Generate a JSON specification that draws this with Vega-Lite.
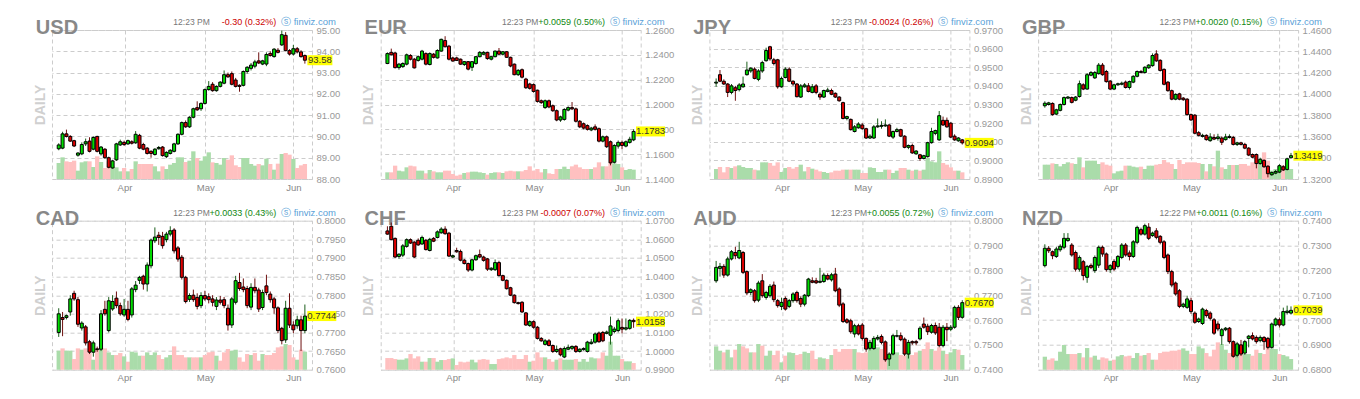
{
"$schema":"https://vega.github.io/schema/vega-lite/v6.json",
"background":"white",
"padding":{"left":32,"top":16,"right":5,"bottom":5},
"config":{
 "font":"Liberation Sans",
 "view":{"stroke":"#cccccc","strokeDash":[4,3]},
 "axisX":{"gridColor":"#cccccc","gridDash":[4,3],"ticks":false,"domain":false,"labelColor":"#888888","labelFontSize":9.5,"labelPadding":3,"labelFlush":false,"labelOverlap":false},
 "axisRight":{"gridColor":"#cccccc","gridDash":[4,3],"ticks":false,"tickSize":0,"domain":false,"labelColor":"#999999","labelFontSize":9.5,"labelPadding":4,"labelFlush":false,"labelBound":false,"labelOverlap":false},
 "axisLeft":{"titleColor":"#d0d0d0","titleFontSize":14,"titleFontWeight":"bold","titlePadding":5}
},
"datasets":{
"USD":[
{"i":0,"o":89.42,"h":89.68,"l":89.35,"c":89.6,"v":48},{"i":1,"o":89.45,"h":90.22,"l":89.4,"c":90.12,"v":65},{"i":2,"o":90.12,"h":90.32,"l":89.95,"c":90.0,"v":53},{"i":3,"o":90.0,"h":90.06,"l":89.74,"c":89.78,"v":51},{"i":4,"o":89.8,"h":89.84,"l":89.5,"c":89.55,"v":55},
{"i":5,"o":89.12,"h":89.26,"l":89.05,"c":89.22,"v":25},{"i":6,"o":89.18,"h":89.72,"l":89.12,"c":89.62,"v":50},{"i":7,"o":89.65,"h":89.9,"l":89.55,"c":89.75,"v":53},{"i":8,"o":89.78,"h":89.96,"l":89.25,"c":89.3,"v":53},{"i":9,"o":89.4,"h":90.0,"l":89.35,"c":89.95,"v":36},
{"i":10,"o":90.0,"h":90.03,"l":89.25,"c":89.3,"v":68},{"i":11,"o":89.18,"h":89.55,"l":89.1,"c":89.5,"v":51},{"i":12,"o":89.4,"h":89.45,"l":88.95,"c":89.0,"v":33},{"i":13,"o":89.0,"h":89.05,"l":88.5,"c":88.55,"v":53},{"i":14,"o":88.52,"h":88.9,"l":88.48,"c":88.85,"v":38},
{"i":15,"o":88.9,"h":89.7,"l":88.85,"c":89.65,"v":35},{"i":16,"o":89.6,"h":89.85,"l":89.55,"c":89.75,"v":23},{"i":17,"o":89.72,"h":89.8,"l":89.55,"c":89.62,"v":33},{"i":18,"o":89.65,"h":89.85,"l":89.6,"c":89.8,"v":23},{"i":19,"o":89.75,"h":89.82,"l":89.62,"c":89.68,"v":30},
{"i":20,"o":89.7,"h":90.25,"l":89.65,"c":90.1,"v":53},{"i":21,"o":90.05,"h":90.12,"l":89.4,"c":89.45,"v":45},{"i":22,"o":89.62,"h":89.7,"l":89.35,"c":89.4,"v":45},{"i":23,"o":89.45,"h":89.5,"l":89.15,"c":89.2,"v":45},{"i":24,"o":89.3,"h":89.35,"l":89.0,"c":89.2,"v":45},
{"i":25,"o":89.15,"h":89.45,"l":89.1,"c":89.4,"v":38},{"i":26,"o":89.42,"h":89.55,"l":89.38,"c":89.48,"v":23},{"i":27,"o":89.5,"h":89.55,"l":89.05,"c":89.1,"v":38},{"i":28,"o":89.05,"h":89.3,"l":88.98,"c":89.25,"v":30},{"i":29,"o":89.2,"h":89.4,"l":89.15,"c":89.35,"v":43},
{"i":30,"o":89.3,"h":89.7,"l":89.25,"c":89.65,"v":48},{"i":31,"o":89.65,"h":90.15,"l":89.6,"c":90.1,"v":65},{"i":32,"o":90.1,"h":90.7,"l":90.05,"c":90.65,"v":65},{"i":33,"o":90.65,"h":90.75,"l":90.4,"c":90.45,"v":51},{"i":34,"o":90.45,"h":90.95,"l":90.4,"c":90.9,"v":55},
{"i":35,"o":90.9,"h":91.35,"l":90.85,"c":91.3,"v":83},{"i":36,"o":91.35,"h":91.65,"l":91.2,"c":91.25,"v":63},{"i":37,"o":91.3,"h":91.6,"l":91.2,"c":91.55,"v":55},{"i":38,"o":91.55,"h":92.25,"l":91.5,"c":92.2,"v":68},{"i":39,"o":92.2,"h":92.6,"l":92.15,"c":92.35,"v":80},
{"i":40,"o":92.45,"h":92.55,"l":92.1,"c":92.15,"v":50},{"i":41,"o":92.15,"h":92.4,"l":92.1,"c":92.35,"v":48},{"i":42,"o":92.35,"h":92.6,"l":92.3,"c":92.55,"v":43},{"i":43,"o":92.5,"h":93.1,"l":92.45,"c":92.9,"v":63},{"i":44,"o":92.9,"h":93.0,"l":92.75,"c":92.8,"v":58},
{"i":45,"o":92.95,"h":93.05,"l":92.4,"c":92.45,"v":71},{"i":46,"o":92.65,"h":92.75,"l":92.3,"c":92.35,"v":41},{"i":47,"o":92.4,"h":92.45,"l":92.1,"c":92.35,"v":36},{"i":48,"o":92.4,"h":93.1,"l":92.35,"c":93.05,"v":63},{"i":49,"o":93.05,"h":93.3,"l":92.95,"c":93.25,"v":63},
{"i":50,"o":93.2,"h":93.45,"l":93.1,"c":93.35,"v":45},{"i":51,"o":93.3,"h":93.6,"l":93.2,"c":93.5,"v":40},{"i":52,"o":93.55,"h":93.95,"l":93.4,"c":93.45,"v":45},{"i":53,"o":93.4,"h":93.6,"l":93.35,"c":93.55,"v":41},{"i":54,"o":93.4,"h":93.95,"l":93.3,"c":93.85,"v":61},
{"i":55,"o":93.9,"h":94.0,"l":93.75,"c":93.8,"v":45},{"i":56,"o":93.75,"h":94.15,"l":93.7,"c":94.1,"v":28},{"i":57,"o":94.05,"h":94.15,"l":93.9,"c":93.95,"v":46},{"i":58,"o":94.3,"h":94.97,"l":94.25,"c":94.78,"v":75},{"i":59,"o":94.75,"h":94.9,"l":94.0,"c":94.03,"v":78},
{"i":60,"o":94.03,"h":94.1,"l":93.8,"c":93.87,"v":73},{"i":61,"o":93.87,"h":94.3,"l":93.8,"c":94.12,"v":60},{"i":62,"o":94.12,"h":94.2,"l":93.9,"c":93.97,"v":33},{"i":63,"o":93.97,"h":94.05,"l":93.7,"c":93.75,"v":41},{"i":64,"o":93.8,"h":93.85,"l":93.42,"c":93.58,"v":45}
],
"EUR":[
{"i":0,"o":1.233,"h":1.242,"l":1.2325,"c":1.241,"v":20},{"i":1,"o":1.242,"h":1.245,"l":1.2395,"c":1.24,"v":20},{"i":2,"o":1.2415,"h":1.2425,"l":1.229,"c":1.2297,"v":40},{"i":3,"o":1.2297,"h":1.2335,"l":1.228,"c":1.2325,"v":25},{"i":4,"o":1.2305,"h":1.234,"l":1.2295,"c":1.233,"v":23},
{"i":5,"o":1.2325,"h":1.241,"l":1.2315,"c":1.24,"v":35},{"i":6,"o":1.2395,"h":1.2405,"l":1.2355,"c":1.2365,"v":40},{"i":7,"o":1.2365,"h":1.2375,"l":1.229,"c":1.2295,"v":38},{"i":8,"o":1.2355,"h":1.2395,"l":1.2345,"c":1.2385,"v":25},{"i":9,"o":1.2365,"h":1.244,"l":1.2355,"c":1.243,"v":25},
{"i":10,"o":1.241,"h":1.242,"l":1.2315,"c":1.2325,"v":17},{"i":11,"o":1.2322,"h":1.242,"l":1.2315,"c":1.241,"v":27},{"i":12,"o":1.2405,"h":1.2415,"l":1.237,"c":1.238,"v":23},{"i":13,"o":1.2375,"h":1.2445,"l":1.237,"c":1.2435,"v":20},{"i":14,"o":1.243,"h":1.253,"l":1.2425,"c":1.2525,"v":20},
{"i":15,"o":1.2515,"h":1.255,"l":1.246,"c":1.2465,"v":25},{"i":16,"o":1.247,"h":1.248,"l":1.2355,"c":1.2365,"v":25},{"i":17,"o":1.2375,"h":1.2385,"l":1.2345,"c":1.235,"v":15},{"i":18,"o":1.2375,"h":1.2385,"l":1.235,"c":1.2355,"v":10},{"i":19,"o":1.2365,"h":1.237,"l":1.232,"c":1.2325,"v":13},
{"i":20,"o":1.2322,"h":1.235,"l":1.231,"c":1.2345,"v":18},{"i":21,"o":1.2345,"h":1.235,"l":1.2275,"c":1.2285,"v":20},{"i":22,"o":1.23,"h":1.235,"l":1.227,"c":1.2345,"v":22},{"i":23,"o":1.233,"h":1.239,"l":1.232,"c":1.2385,"v":22},{"i":24,"o":1.2385,"h":1.243,"l":1.238,"c":1.242,"v":20},
{"i":25,"o":1.2405,"h":1.243,"l":1.24,"c":1.242,"v":18},{"i":26,"o":1.242,"h":1.2425,"l":1.236,"c":1.237,"v":13},{"i":27,"o":1.2365,"h":1.239,"l":1.2355,"c":1.2385,"v":18},{"i":28,"o":1.2385,"h":1.2435,"l":1.238,"c":1.243,"v":20},{"i":29,"o":1.243,"h":1.2455,"l":1.24,"c":1.2405,"v":20},
{"i":30,"o":1.2405,"h":1.243,"l":1.2395,"c":1.2425,"v":18},{"i":31,"o":1.2425,"h":1.243,"l":1.2375,"c":1.238,"v":23},{"i":32,"o":1.238,"h":1.2385,"l":1.23,"c":1.231,"v":25},{"i":33,"o":1.2325,"h":1.233,"l":1.2235,"c":1.224,"v":23},{"i":34,"o":1.224,"h":1.2285,"l":1.223,"c":1.2275,"v":23},
{"i":35,"o":1.228,"h":1.229,"l":1.221,"c":1.222,"v":23},{"i":36,"o":1.2205,"h":1.2215,"l":1.2125,"c":1.2135,"v":27},{"i":37,"o":1.2165,"h":1.2175,"l":1.212,"c":1.213,"v":38},{"i":38,"o":1.216,"h":1.217,"l":1.2095,"c":1.2105,"v":25},{"i":39,"o":1.2115,"h":1.212,"l":1.2015,"c":1.2025,"v":30},
{"i":40,"o":1.203,"h":1.204,"l":1.2005,"c":1.2015,"v":20},{"i":41,"o":1.1975,"h":1.204,"l":1.1965,"c":1.203,"v":30},{"i":42,"o":1.203,"h":1.204,"l":1.197,"c":1.198,"v":17},{"i":43,"o":1.199,"h":1.2,"l":1.194,"c":1.195,"v":15},{"i":44,"o":1.195,"h":1.196,"l":1.1865,"c":1.1875,"v":30},
{"i":45,"o":1.1875,"h":1.191,"l":1.186,"c":1.19,"v":30},{"i":46,"o":1.188,"h":1.197,"l":1.187,"c":1.196,"v":37},{"i":47,"o":1.1955,"h":1.1985,"l":1.1945,"c":1.1975,"v":30},{"i":48,"o":1.1975,"h":1.202,"l":1.1955,"c":1.1965,"v":38},{"i":49,"o":1.1965,"h":1.1975,"l":1.1855,"c":1.1865,"v":43},
{"i":50,"o":1.1865,"h":1.1875,"l":1.181,"c":1.182,"v":35},{"i":51,"o":1.1845,"h":1.1855,"l":1.18,"c":1.181,"v":30},{"i":52,"o":1.183,"h":1.184,"l":1.179,"c":1.18,"v":30},{"i":53,"o":1.1795,"h":1.182,"l":1.1785,"c":1.181,"v":30},{"i":54,"o":1.182,"h":1.184,"l":1.179,"c":1.18,"v":35},
{"i":55,"o":1.1805,"h":1.1815,"l":1.1695,"c":1.1705,"v":50},{"i":56,"o":1.1705,"h":1.175,"l":1.1695,"c":1.174,"v":38},{"i":57,"o":1.174,"h":1.175,"l":1.165,"c":1.166,"v":38},{"i":58,"o":1.17,"h":1.171,"l":1.151,"c":1.153,"v":50},{"i":59,"o":1.1535,"h":1.168,"l":1.1525,"c":1.167,"v":47},
{"i":60,"o":1.1665,"h":1.171,"l":1.1645,"c":1.1695,"v":45},{"i":61,"o":1.1695,"h":1.171,"l":1.164,"c":1.167,"v":35},{"i":62,"o":1.1665,"h":1.171,"l":1.1655,"c":1.17,"v":27},{"i":63,"o":1.1695,"h":1.174,"l":1.1685,"c":1.172,"v":30},{"i":64,"o":1.1715,"h":1.18,"l":1.1705,"c":1.1783,"v":28}
],
"JPY":[
{"i":0,"o":0.9415,"h":0.944,"l":0.9395,"c":0.942,"v":30},{"i":1,"o":0.946,"h":0.9485,"l":0.942,"c":0.9425,"v":36},{"i":2,"o":0.9425,"h":0.9435,"l":0.9405,"c":0.941,"v":20},{"i":3,"o":0.941,"h":0.9415,"l":0.934,"c":0.9365,"v":36},{"i":4,"o":0.9365,"h":0.941,"l":0.9355,"c":0.94,"v":33},
{"i":5,"o":0.939,"h":0.94,"l":0.932,"c":0.9375,"v":38},{"i":6,"o":0.938,"h":0.9415,"l":0.937,"c":0.9405,"v":41},{"i":7,"o":0.9395,"h":0.945,"l":0.939,"c":0.941,"v":36},{"i":8,"o":0.946,"h":0.953,"l":0.9455,"c":0.9485,"v":33},{"i":9,"o":0.948,"h":0.95,"l":0.947,"c":0.9495,"v":33},
{"i":10,"o":0.949,"h":0.95,"l":0.9435,"c":0.944,"v":28},{"i":11,"o":0.9435,"h":0.949,"l":0.9425,"c":0.948,"v":26},{"i":12,"o":0.948,"h":0.9535,"l":0.947,"c":0.9525,"v":50},{"i":13,"o":0.9535,"h":0.9605,"l":0.953,"c":0.959,"v":50},{"i":14,"o":0.961,"h":0.9615,"l":0.9535,"c":0.9545,"v":48},
{"i":15,"o":0.954,"h":0.955,"l":0.951,"c":0.952,"v":40},{"i":16,"o":0.954,"h":0.9545,"l":0.9385,"c":0.9395,"v":50},{"i":17,"o":0.9395,"h":0.945,"l":0.939,"c":0.944,"v":21},{"i":18,"o":0.9445,"h":0.95,"l":0.944,"c":0.949,"v":33},{"i":19,"o":0.949,"h":0.95,"l":0.942,"c":0.9425,"v":36},
{"i":20,"o":0.9425,"h":0.943,"l":0.94,"c":0.941,"v":31},{"i":21,"o":0.941,"h":0.9415,"l":0.9338,"c":0.9342,"v":36},{"i":22,"o":0.934,"h":0.941,"l":0.9335,"c":0.94,"v":43},{"i":23,"o":0.9395,"h":0.9415,"l":0.939,"c":0.9405,"v":23},{"i":24,"o":0.94,"h":0.9415,"l":0.9365,"c":0.937,"v":36},
{"i":25,"o":0.9365,"h":0.941,"l":0.936,"c":0.9395,"v":31},{"i":26,"o":0.94,"h":0.941,"l":0.9355,"c":0.9365,"v":28},{"i":27,"o":0.9355,"h":0.9365,"l":0.9325,"c":0.934,"v":23},{"i":28,"o":0.934,"h":0.938,"l":0.9335,"c":0.9375,"v":21},{"i":29,"o":0.937,"h":0.939,"l":0.9365,"c":0.9378,"v":18},
{"i":30,"o":0.9375,"h":0.9385,"l":0.935,"c":0.9355,"v":20},{"i":31,"o":0.936,"h":0.9365,"l":0.9335,"c":0.934,"v":25},{"i":32,"o":0.934,"h":0.9345,"l":0.9315,"c":0.932,"v":25},{"i":33,"o":0.931,"h":0.9315,"l":0.922,"c":0.9225,"v":28},{"i":34,"o":0.9225,"h":0.924,"l":0.9215,"c":0.9235,"v":28},
{"i":35,"o":0.922,"h":0.9225,"l":0.916,"c":0.9165,"v":28},{"i":36,"o":0.9155,"h":0.919,"l":0.915,"c":0.918,"v":28},{"i":37,"o":0.9175,"h":0.9205,"l":0.917,"c":0.9195,"v":28},{"i":38,"o":0.919,"h":0.92,"l":0.9165,"c":0.917,"v":18},{"i":39,"o":0.917,"h":0.9175,"l":0.9115,"c":0.912,"v":18},
{"i":40,"o":0.912,"h":0.914,"l":0.9115,"c":0.913,"v":35},{"i":41,"o":0.912,"h":0.919,"l":0.9115,"c":0.918,"v":33},{"i":42,"o":0.918,"h":0.9225,"l":0.9175,"c":0.9185,"v":21},{"i":43,"o":0.9183,"h":0.921,"l":0.917,"c":0.9188,"v":21},{"i":44,"o":0.9185,"h":0.922,"l":0.918,"c":0.919,"v":28},
{"i":45,"o":0.919,"h":0.9195,"l":0.9125,"c":0.913,"v":28},{"i":46,"o":0.9125,"h":0.916,"l":0.9115,"c":0.9155,"v":18},{"i":47,"o":0.9155,"h":0.9175,"l":0.915,"c":0.9165,"v":25},{"i":48,"o":0.9165,"h":0.917,"l":0.9125,"c":0.913,"v":33},{"i":49,"o":0.913,"h":0.9135,"l":0.9065,"c":0.907,"v":33},
{"i":50,"o":0.907,"h":0.9085,"l":0.906,"c":0.908,"v":28},{"i":51,"o":0.908,"h":0.909,"l":0.9035,"c":0.904,"v":25},{"i":52,"o":0.9035,"h":0.9055,"l":0.903,"c":0.905,"v":28},{"i":53,"o":0.903,"h":0.9035,"l":0.8998,"c":0.901,"v":25},{"i":54,"o":0.901,"h":0.903,"l":0.9005,"c":0.9025,"v":28},
{"i":55,"o":0.902,"h":0.91,"l":0.9015,"c":0.9095,"v":63},{"i":56,"o":0.9095,"h":0.9175,"l":0.909,"c":0.9155,"v":53},{"i":57,"o":0.9145,"h":0.9165,"l":0.9135,"c":0.916,"v":50},{"i":58,"o":0.911,"h":0.9265,"l":0.9105,"c":0.924,"v":83},{"i":59,"o":0.9215,"h":0.9235,"l":0.9185,"c":0.919,"v":48},
{"i":60,"o":0.9215,"h":0.923,"l":0.9175,"c":0.918,"v":43},{"i":61,"o":0.92,"h":0.9205,"l":0.912,"c":0.9125,"v":35},{"i":62,"o":0.913,"h":0.914,"l":0.9105,"c":0.911,"v":25},{"i":63,"o":0.9105,"h":0.9125,"l":0.91,"c":0.912,"v":25},{"i":64,"o":0.911,"h":0.9115,"l":0.9085,"c":0.9094,"v":20}
],
"GBP":[
{"i":0,"o":1.3888,"h":1.393,"l":1.387,"c":1.3912,"v":43},{"i":1,"o":1.39,"h":1.3925,"l":1.389,"c":1.3915,"v":43},{"i":2,"o":1.391,"h":1.392,"l":1.3795,"c":1.3805,"v":47},{"i":3,"o":1.381,"h":1.386,"l":1.38,"c":1.385,"v":45},{"i":4,"o":1.3845,"h":1.391,"l":1.3835,"c":1.39,"v":38},
{"i":5,"o":1.39,"h":1.3975,"l":1.389,"c":1.3965,"v":45},{"i":6,"o":1.396,"h":1.398,"l":1.395,"c":1.397,"v":50},{"i":7,"o":1.3965,"h":1.3975,"l":1.391,"c":1.392,"v":47},{"i":8,"o":1.394,"h":1.398,"l":1.393,"c":1.397,"v":45},{"i":9,"o":1.3975,"h":1.4125,"l":1.3965,"c":1.4095,"v":65},
{"i":10,"o":1.4085,"h":1.41,"l":1.4035,"c":1.4045,"v":35},{"i":11,"o":1.4045,"h":1.4195,"l":1.404,"c":1.418,"v":55},{"i":12,"o":1.4175,"h":1.4215,"l":1.4165,"c":1.42,"v":55},{"i":13,"o":1.415,"h":1.4215,"l":1.414,"c":1.42,"v":55},{"i":14,"o":1.419,"h":1.429,"l":1.418,"c":1.427,"v":45},
{"i":15,"o":1.427,"h":1.429,"l":1.417,"c":1.418,"v":50},{"i":16,"o":1.421,"h":1.4225,"l":1.4105,"c":1.4115,"v":43},{"i":17,"o":1.412,"h":1.413,"l":1.4035,"c":1.4045,"v":40},{"i":18,"o":1.4045,"h":1.4095,"l":1.4035,"c":1.4085,"v":17},{"i":19,"o":1.4085,"h":1.4105,"l":1.4075,"c":1.4095,"v":23},
{"i":20,"o":1.409,"h":1.4115,"l":1.408,"c":1.41,"v":25},{"i":21,"o":1.411,"h":1.4125,"l":1.405,"c":1.406,"v":40},{"i":22,"o":1.406,"h":1.4125,"l":1.404,"c":1.4115,"v":40},{"i":23,"o":1.411,"h":1.4175,"l":1.41,"c":1.4165,"v":37},{"i":24,"o":1.4165,"h":1.422,"l":1.4155,"c":1.421,"v":35},
{"i":25,"o":1.421,"h":1.4225,"l":1.4195,"c":1.42,"v":37},{"i":26,"o":1.42,"h":1.426,"l":1.419,"c":1.425,"v":30},{"i":27,"o":1.4245,"h":1.428,"l":1.4235,"c":1.427,"v":40},{"i":28,"o":1.4265,"h":1.438,"l":1.4255,"c":1.436,"v":40},{"i":29,"o":1.4375,"h":1.441,"l":1.43,"c":1.431,"v":43},
{"i":30,"o":1.4315,"h":1.4325,"l":1.421,"c":1.422,"v":45},{"i":31,"o":1.423,"h":1.424,"l":1.408,"c":1.409,"v":57},{"i":32,"o":1.411,"h":1.412,"l":1.402,"c":1.403,"v":50},{"i":33,"o":1.403,"h":1.404,"l":1.394,"c":1.395,"v":45},{"i":34,"o":1.395,"h":1.4005,"l":1.394,"c":1.3995,"v":30},
{"i":35,"o":1.4,"h":1.401,"l":1.394,"c":1.395,"v":57},{"i":36,"o":1.396,"h":1.397,"l":1.3935,"c":1.3945,"v":45},{"i":37,"o":1.395,"h":1.396,"l":1.3795,"c":1.3805,"v":50},{"i":38,"o":1.3805,"h":1.3815,"l":1.3745,"c":1.3755,"v":50},{"i":39,"o":1.38,"h":1.381,"l":1.362,"c":1.363,"v":50},
{"i":40,"o":1.3635,"h":1.365,"l":1.36,"c":1.361,"v":48},{"i":41,"o":1.36,"h":1.3625,"l":1.359,"c":1.361,"v":45},{"i":42,"o":1.361,"h":1.362,"l":1.356,"c":1.357,"v":23},{"i":43,"o":1.356,"h":1.363,"l":1.355,"c":1.3595,"v":45},{"i":44,"o":1.359,"h":1.362,"l":1.3565,"c":1.3575,"v":38},
{"i":45,"o":1.358,"h":1.3625,"l":1.356,"c":1.3595,"v":85},{"i":46,"o":1.3585,"h":1.36,"l":1.352,"c":1.3545,"v":35},{"i":47,"o":1.357,"h":1.3625,"l":1.356,"c":1.3595,"v":30},{"i":48,"o":1.359,"h":1.362,"l":1.358,"c":1.36,"v":42},{"i":49,"o":1.359,"h":1.3605,"l":1.3515,"c":1.3525,"v":42},
{"i":50,"o":1.3525,"h":1.355,"l":1.351,"c":1.354,"v":42},{"i":51,"o":1.354,"h":1.355,"l":1.3515,"c":1.3525,"v":45},{"i":52,"o":1.3525,"h":1.354,"l":1.348,"c":1.349,"v":45},{"i":53,"o":1.349,"h":1.35,"l":1.3415,"c":1.3425,"v":40},{"i":54,"o":1.343,"h":1.344,"l":1.3395,"c":1.3405,"v":50},
{"i":55,"o":1.343,"h":1.344,"l":1.33,"c":1.3345,"v":45},{"i":56,"o":1.3345,"h":1.34,"l":1.3335,"c":1.3385,"v":45},{"i":57,"o":1.3375,"h":1.3385,"l":1.3305,"c":1.3315,"v":80},{"i":58,"o":1.332,"h":1.333,"l":1.3215,"c":1.325,"v":55},{"i":59,"o":1.324,"h":1.327,"l":1.323,"c":1.326,"v":25},
{"i":60,"o":1.3255,"h":1.3285,"l":1.3245,"c":1.327,"v":30},{"i":61,"o":1.3265,"h":1.334,"l":1.3255,"c":1.3325,"v":38},{"i":62,"o":1.3315,"h":1.333,"l":1.3275,"c":1.3285,"v":40},{"i":63,"o":1.329,"h":1.34,"l":1.328,"c":1.339,"v":30},{"i":64,"o":1.34,"h":1.3445,"l":1.3395,"c":1.3419,"v":30}
],
"CAD":[
{"i":0,"o":0.77,"h":0.7765,"l":0.7688,"c":0.775,"v":57},{"i":1,"o":0.774,"h":0.7755,"l":0.769,"c":0.7735,"v":64},{"i":2,"o":0.774,"h":0.7748,"l":0.7735,"c":0.7745,"v":57},{"i":3,"o":0.7755,"h":0.78,"l":0.7745,"c":0.779,"v":57},{"i":4,"o":0.7805,"h":0.7812,"l":0.7785,"c":0.779,"v":32},
{"i":5,"o":0.7788,"h":0.7795,"l":0.7715,"c":0.7722,"v":64},{"i":6,"o":0.7712,"h":0.773,"l":0.7705,"c":0.7725,"v":60},{"i":7,"o":0.7715,"h":0.772,"l":0.7665,"c":0.7672,"v":64},{"i":8,"o":0.7675,"h":0.768,"l":0.7642,"c":0.7647,"v":50},{"i":9,"o":0.7647,"h":0.7678,"l":0.7635,"c":0.7672,"v":30},
{"i":10,"o":0.7656,"h":0.7662,"l":0.7648,"c":0.7654,"v":64},{"i":11,"o":0.7655,"h":0.776,"l":0.765,"c":0.775,"v":62},{"i":12,"o":0.7762,"h":0.7785,"l":0.7745,"c":0.775,"v":64},{"i":13,"o":0.7705,"h":0.7795,"l":0.77,"c":0.7785,"v":52},{"i":14,"o":0.7763,"h":0.78,"l":0.7758,"c":0.7783,"v":44},
{"i":15,"o":0.7792,"h":0.781,"l":0.7765,"c":0.7772,"v":44},{"i":16,"o":0.7772,"h":0.778,"l":0.7745,"c":0.775,"v":50},{"i":17,"o":0.7747,"h":0.779,"l":0.7742,"c":0.7762,"v":40},{"i":18,"o":0.7762,"h":0.7785,"l":0.773,"c":0.7735,"v":24},{"i":19,"o":0.7747,"h":0.7822,"l":0.774,"c":0.7817,"v":54},
{"i":20,"o":0.7815,"h":0.7838,"l":0.7808,"c":0.7827,"v":52},{"i":21,"o":0.784,"h":0.7852,"l":0.783,"c":0.7848,"v":42},{"i":22,"o":0.7851,"h":0.7855,"l":0.7815,"c":0.783,"v":42},{"i":23,"o":0.783,"h":0.7888,"l":0.781,"c":0.7881,"v":52},{"i":24,"o":0.7879,"h":0.7952,"l":0.7872,"c":0.7948,"v":44},
{"i":25,"o":0.7946,"h":0.7982,"l":0.794,"c":0.7956,"v":52},{"i":26,"o":0.7961,"h":0.797,"l":0.7935,"c":0.7955,"v":44},{"i":27,"o":0.7958,"h":0.797,"l":0.7925,"c":0.7933,"v":32},{"i":28,"o":0.7949,"h":0.797,"l":0.7942,"c":0.7964,"v":37},{"i":29,"o":0.7964,"h":0.7985,"l":0.7958,"c":0.7973,"v":44},
{"i":30,"o":0.7975,"h":0.798,"l":0.7912,"c":0.7919,"v":70},{"i":31,"o":0.7927,"h":0.7932,"l":0.789,"c":0.7897,"v":44},{"i":32,"o":0.7902,"h":0.7908,"l":0.7842,"c":0.7848,"v":44},{"i":33,"o":0.7848,"h":0.7852,"l":0.7778,"c":0.7783,"v":37},{"i":34,"o":0.7789,"h":0.7805,"l":0.7782,"c":0.7799,"v":37},
{"i":35,"o":0.78,"h":0.7815,"l":0.7782,"c":0.7788,"v":37},{"i":36,"o":0.7794,"h":0.7805,"l":0.7762,"c":0.777,"v":37},{"i":37,"o":0.7772,"h":0.7808,"l":0.7765,"c":0.7799,"v":37},{"i":38,"o":0.7799,"h":0.7812,"l":0.7785,"c":0.779,"v":44},{"i":39,"o":0.7796,"h":0.7805,"l":0.7778,"c":0.7788,"v":52},
{"i":40,"o":0.779,"h":0.78,"l":0.777,"c":0.7781,"v":54},{"i":41,"o":0.777,"h":0.7795,"l":0.776,"c":0.7787,"v":42},{"i":42,"o":0.7787,"h":0.7798,"l":0.7775,"c":0.7781,"v":27},{"i":43,"o":0.7788,"h":0.7795,"l":0.7765,"c":0.7772,"v":52},{"i":44,"o":0.7765,"h":0.7775,"l":0.7705,"c":0.772,"v":62},
{"i":45,"o":0.772,"h":0.7795,"l":0.7712,"c":0.779,"v":57},{"i":46,"o":0.7781,"h":0.7852,"l":0.7775,"c":0.7839,"v":60},{"i":47,"o":0.7834,"h":0.786,"l":0.7812,"c":0.7818,"v":37},{"i":48,"o":0.7822,"h":0.7845,"l":0.7808,"c":0.7815,"v":24},{"i":49,"o":0.7818,"h":0.7825,"l":0.7765,"c":0.7772,"v":47},
{"i":50,"o":0.7768,"h":0.7832,"l":0.776,"c":0.7821,"v":44},{"i":51,"o":0.7821,"h":0.7845,"l":0.7805,"c":0.7812,"v":50},{"i":52,"o":0.7814,"h":0.782,"l":0.7755,"c":0.7763,"v":27},{"i":53,"o":0.7767,"h":0.7815,"l":0.776,"c":0.7807,"v":47},{"i":54,"o":0.7825,"h":0.7855,"l":0.78,"c":0.7807,"v":44},
{"i":55,"o":0.7803,"h":0.781,"l":0.778,"c":0.7788,"v":44},{"i":56,"o":0.779,"h":0.7795,"l":0.775,"c":0.7766,"v":50},{"i":57,"o":0.7766,"h":0.777,"l":0.7698,"c":0.7705,"v":67},{"i":58,"o":0.7711,"h":0.7715,"l":0.7668,"c":0.7678,"v":70},{"i":59,"o":0.768,"h":0.7785,"l":0.7672,"c":0.7765,"v":77},
{"i":60,"o":0.7765,"h":0.7805,"l":0.7712,"c":0.772,"v":74},{"i":61,"o":0.772,"h":0.773,"l":0.7698,"c":0.7707,"v":37},{"i":62,"o":0.7718,"h":0.7745,"l":0.771,"c":0.7734,"v":30},{"i":63,"o":0.7734,"h":0.7745,"l":0.765,"c":0.7705,"v":60},{"i":64,"o":0.7705,"h":0.7775,"l":0.7698,"c":0.7744,"v":54}
],
"CHF":[
{"i":0,"o":1.0645,"h":1.067,"l":1.0625,"c":1.0628,"v":35},{"i":1,"o":1.067,"h":1.069,"l":1.0595,"c":1.0598,"v":35},{"i":2,"o":1.0605,"h":1.061,"l":1.05,"c":1.0505,"v":32},{"i":3,"o":1.0508,"h":1.0525,"l":1.0495,"c":1.052,"v":30},{"i":4,"o":1.0515,"h":1.0575,"l":1.0505,"c":1.0565,"v":30},
{"i":5,"o":1.0562,"h":1.0605,"l":1.0555,"c":1.0598,"v":34},{"i":6,"o":1.0598,"h":1.0605,"l":1.0575,"c":1.058,"v":47},{"i":7,"o":1.0585,"h":1.059,"l":1.05,"c":1.0505,"v":34},{"i":8,"o":1.0595,"h":1.0605,"l":1.0565,"c":1.057,"v":40},{"i":9,"o":1.0575,"h":1.062,"l":1.057,"c":1.061,"v":24},
{"i":10,"o":1.0595,"h":1.0602,"l":1.054,"c":1.0545,"v":24},{"i":11,"o":1.054,"h":1.0608,"l":1.0535,"c":1.06,"v":35},{"i":12,"o":1.0605,"h":1.0612,"l":1.0585,"c":1.059,"v":35},{"i":13,"o":1.061,"h":1.0648,"l":1.0605,"c":1.064,"v":24},{"i":14,"o":1.0635,"h":1.0665,"l":1.063,"c":1.0655,"v":29},
{"i":15,"o":1.0655,"h":1.067,"l":1.0625,"c":1.063,"v":29},{"i":16,"o":1.0633,"h":1.064,"l":1.0505,"c":1.051,"v":32},{"i":17,"o":1.0505,"h":1.0518,"l":1.0498,"c":1.0512,"v":34},{"i":18,"o":1.054,"h":1.0555,"l":1.0528,"c":1.0533,"v":14},{"i":19,"o":1.0535,"h":1.0545,"l":1.0482,"c":1.0488,"v":24},
{"i":20,"o":1.0488,"h":1.0495,"l":1.0465,"c":1.047,"v":22},{"i":21,"o":1.047,"h":1.0475,"l":1.0425,"c":1.0435,"v":24},{"i":22,"o":1.0435,"h":1.0495,"l":1.0428,"c":1.049,"v":30},{"i":23,"o":1.049,"h":1.0518,"l":1.0485,"c":1.0512,"v":22},{"i":24,"o":1.0518,"h":1.0545,"l":1.05,"c":1.0505,"v":30},
{"i":25,"o":1.0505,"h":1.0512,"l":1.048,"c":1.0487,"v":32},{"i":26,"o":1.0495,"h":1.05,"l":1.043,"c":1.044,"v":30},{"i":27,"o":1.0437,"h":1.045,"l":1.043,"c":1.0445,"v":17},{"i":28,"o":1.0437,"h":1.0492,"l":1.043,"c":1.0475,"v":17},{"i":29,"o":1.0475,"h":1.0485,"l":1.04,"c":1.0405,"v":32},
{"i":30,"o":1.0405,"h":1.041,"l":1.0375,"c":1.038,"v":34},{"i":31,"o":1.038,"h":1.0385,"l":1.033,"c":1.0335,"v":37},{"i":32,"o":1.034,"h":1.0345,"l":1.0295,"c":1.03,"v":34},{"i":33,"o":1.03,"h":1.0305,"l":1.0255,"c":1.026,"v":44},{"i":34,"o":1.026,"h":1.0265,"l":1.025,"c":1.0255,"v":32},
{"i":35,"o":1.0262,"h":1.0268,"l":1.0205,"c":1.021,"v":32},{"i":36,"o":1.0205,"h":1.021,"l":1.0135,"c":1.014,"v":44},{"i":37,"o":1.0137,"h":1.0165,"l":1.013,"c":1.0158,"v":24},{"i":38,"o":1.0158,"h":1.0165,"l":1.012,"c":1.0128,"v":27},{"i":39,"o":1.0128,"h":1.0135,"l":1.0062,"c":1.0068,"v":52},
{"i":40,"o":1.0068,"h":1.0075,"l":1.005,"c":1.0055,"v":37},{"i":41,"o":1.0036,"h":1.0065,"l":1.003,"c":1.0055,"v":37},{"i":42,"o":1.0055,"h":1.0065,"l":1.0025,"c":1.003,"v":32},{"i":43,"o":1.003,"h":1.0035,"l":0.999,"c":0.9998,"v":24},{"i":44,"o":0.9998,"h":1.003,"l":0.999,"c":1.0009,"v":30},
{"i":45,"o":1.0012,"h":1.0018,"l":0.9972,"c":0.998,"v":34},{"i":46,"o":0.9968,"h":1.0025,"l":0.9962,"c":1.0014,"v":30},{"i":47,"o":1.001,"h":1.0035,"l":1.0005,"c":1.002,"v":30},{"i":48,"o":1.0015,"h":1.003,"l":1.0005,"c":1.0025,"v":30},{"i":49,"o":1.0025,"h":1.0032,"l":0.999,"c":0.9998,"v":32},
{"i":50,"o":0.9998,"h":1.0015,"l":0.9992,"c":1.001,"v":24},{"i":51,"o":1.0008,"h":1.002,"l":1.0002,"c":1.0014,"v":32},{"i":52,"o":0.9998,"h":1.0055,"l":0.9992,"c":1.0048,"v":24},{"i":53,"o":1.004,"h":1.0065,"l":1.0035,"c":1.0048,"v":37},{"i":54,"o":1.0048,"h":1.01,"l":1.004,"c":1.0092,"v":34},
{"i":55,"o":1.0097,"h":1.0105,"l":1.0045,"c":1.005,"v":34},{"i":56,"o":1.01,"h":1.0108,"l":1.0048,"c":1.0055,"v":52},{"i":57,"o":1.0095,"h":1.011,"l":1.009,"c":1.0102,"v":42},{"i":58,"o":1.0085,"h":1.0185,"l":1.0035,"c":1.0135,"v":84},{"i":59,"o":1.0105,"h":1.013,"l":1.0095,"c":1.0118,"v":42},
{"i":60,"o":1.011,"h":1.0175,"l":1.01,"c":1.0163,"v":42},{"i":61,"o":1.0127,"h":1.0175,"l":1.0095,"c":1.0118,"v":32},{"i":62,"o":1.0118,"h":1.0175,"l":1.011,"c":1.0125,"v":25},{"i":63,"o":1.0122,"h":1.0172,"l":1.0115,"c":1.0165,"v":25},{"i":64,"o":1.0165,"h":1.0175,"l":1.0125,"c":1.0158,"v":20}
],
"AUD":[
{"i":0,"o":0.7758,"h":0.7838,"l":0.775,"c":0.7812,"v":70},{"i":1,"o":0.7808,"h":0.783,"l":0.7775,"c":0.7816,"v":57},{"i":2,"o":0.7816,"h":0.7825,"l":0.777,"c":0.7781,"v":52},{"i":3,"o":0.7781,"h":0.7855,"l":0.7775,"c":0.7846,"v":60},{"i":4,"o":0.7846,"h":0.7882,"l":0.784,"c":0.7875,"v":37},
{"i":5,"o":0.7872,"h":0.7895,"l":0.7845,"c":0.7859,"v":60},{"i":6,"o":0.785,"h":0.7915,"l":0.7845,"c":0.788,"v":77},{"i":7,"o":0.7872,"h":0.7878,"l":0.7785,"c":0.7792,"v":70},{"i":8,"o":0.7795,"h":0.78,"l":0.77,"c":0.7709,"v":64},{"i":9,"o":0.7711,"h":0.7728,"l":0.77,"c":0.7722,"v":52},
{"i":10,"o":0.7718,"h":0.7725,"l":0.767,"c":0.7678,"v":52},{"i":11,"o":0.768,"h":0.7758,"l":0.7672,"c":0.7749,"v":77},{"i":12,"o":0.7758,"h":0.7785,"l":0.769,"c":0.7698,"v":72},{"i":13,"o":0.7691,"h":0.7718,"l":0.7682,"c":0.7711,"v":42},{"i":14,"o":0.7698,"h":0.7745,"l":0.769,"c":0.7736,"v":57},
{"i":15,"o":0.7741,"h":0.7755,"l":0.7672,"c":0.7682,"v":44},{"i":16,"o":0.7678,"h":0.7685,"l":0.765,"c":0.7658,"v":57},{"i":17,"o":0.7655,"h":0.769,"l":0.764,"c":0.7671,"v":22},{"i":18,"o":0.7687,"h":0.7695,"l":0.7638,"c":0.7644,"v":42},{"i":19,"o":0.7655,"h":0.7685,"l":0.7648,"c":0.7678,"v":52},
{"i":20,"o":0.7678,"h":0.7712,"l":0.767,"c":0.7705,"v":50},{"i":21,"o":0.7711,"h":0.7718,"l":0.767,"c":0.7678,"v":44},{"i":22,"o":0.7687,"h":0.7695,"l":0.7652,"c":0.7664,"v":47},{"i":23,"o":0.7664,"h":0.7705,"l":0.7655,"c":0.77,"v":54},{"i":24,"o":0.7698,"h":0.777,"l":0.7692,"c":0.7765,"v":50},
{"i":25,"o":0.7758,"h":0.7772,"l":0.7748,"c":0.7752,"v":57},{"i":26,"o":0.7758,"h":0.777,"l":0.7745,"c":0.775,"v":32},{"i":27,"o":0.7752,"h":0.781,"l":0.7748,"c":0.7756,"v":37},{"i":28,"o":0.7755,"h":0.779,"l":0.775,"c":0.7781,"v":34},{"i":29,"o":0.7779,"h":0.7788,"l":0.776,"c":0.7765,"v":32},
{"i":30,"o":0.7762,"h":0.779,"l":0.7755,"c":0.7782,"v":44},{"i":31,"o":0.7785,"h":0.781,"l":0.7712,"c":0.7718,"v":62},{"i":32,"o":0.7725,"h":0.7732,"l":0.7652,"c":0.766,"v":54},{"i":33,"o":0.7665,"h":0.7672,"l":0.7588,"c":0.7594,"v":62},{"i":34,"o":0.7601,"h":0.7608,"l":0.7585,"c":0.7591,"v":62},
{"i":35,"o":0.7597,"h":0.7605,"l":0.7545,"c":0.7553,"v":62},{"i":36,"o":0.7544,"h":0.7585,"l":0.753,"c":0.7577,"v":62},{"i":37,"o":0.7577,"h":0.7585,"l":0.7538,"c":0.7544,"v":52},{"i":38,"o":0.758,"h":0.7588,"l":0.7518,"c":0.7526,"v":50},{"i":39,"o":0.7526,"h":0.753,"l":0.7472,"c":0.7483,"v":52},
{"i":40,"o":0.7486,"h":0.752,"l":0.7478,"c":0.751,"v":67},{"i":41,"o":0.7485,"h":0.7535,"l":0.748,"c":0.7526,"v":82},{"i":42,"o":0.7524,"h":0.754,"l":0.7518,"c":0.753,"v":67},{"i":43,"o":0.7534,"h":0.7542,"l":0.7502,"c":0.751,"v":62},{"i":44,"o":0.7512,"h":0.7518,"l":0.7432,"c":0.744,"v":82},
{"i":45,"o":0.7443,"h":0.747,"l":0.7415,"c":0.7463,"v":44},{"i":46,"o":0.7463,"h":0.7545,"l":0.7458,"c":0.7537,"v":52},{"i":47,"o":0.7535,"h":0.756,"l":0.753,"c":0.7537,"v":52},{"i":48,"o":0.7537,"h":0.755,"l":0.7515,"c":0.7521,"v":44},{"i":49,"o":0.7523,"h":0.753,"l":0.7455,"c":0.7463,"v":42},
{"i":50,"o":0.7463,"h":0.752,"l":0.7445,"c":0.751,"v":57},{"i":51,"o":0.7513,"h":0.7518,"l":0.75,"c":0.7508,"v":44},{"i":52,"o":0.7513,"h":0.752,"l":0.7498,"c":0.7508,"v":52},{"i":53,"o":0.7524,"h":0.7575,"l":0.7518,"c":0.7567,"v":57},{"i":54,"o":0.7584,"h":0.761,"l":0.7565,"c":0.7571,"v":62},
{"i":55,"o":0.7575,"h":0.7585,"l":0.754,"c":0.7553,"v":82},{"i":56,"o":0.7551,"h":0.7585,"l":0.7545,"c":0.7578,"v":62},{"i":57,"o":0.7578,"h":0.759,"l":0.754,"c":0.7548,"v":57},{"i":58,"o":0.7571,"h":0.7588,"l":0.749,"c":0.7497,"v":67},{"i":59,"o":0.7497,"h":0.758,"l":0.749,"c":0.7571,"v":57},
{"i":60,"o":0.7571,"h":0.7588,"l":0.7515,"c":0.7561,"v":47},{"i":61,"o":0.7563,"h":0.758,"l":0.7555,"c":0.7571,"v":52},{"i":62,"o":0.7571,"h":0.7658,"l":0.7565,"c":0.7651,"v":62},{"i":63,"o":0.7651,"h":0.766,"l":0.76,"c":0.7611,"v":60},{"i":64,"o":0.7611,"h":0.768,"l":0.7605,"c":0.767,"v":44}
],
"NZD":[
{"i":0,"o":0.7219,"h":0.7305,"l":0.7212,"c":0.7289,"v":39},{"i":1,"o":0.7289,"h":0.7298,"l":0.727,"c":0.7279,"v":30},{"i":2,"o":0.7275,"h":0.728,"l":0.7245,"c":0.7259,"v":34},{"i":3,"o":0.7256,"h":0.7295,"l":0.725,"c":0.7286,"v":27},{"i":4,"o":0.7283,"h":0.7305,"l":0.7275,"c":0.7297,"v":54},
{"i":5,"o":0.7293,"h":0.735,"l":0.7285,"c":0.7329,"v":74},{"i":6,"o":0.732,"h":0.735,"l":0.7315,"c":0.7329,"v":47},{"i":7,"o":0.7302,"h":0.731,"l":0.7255,"c":0.7262,"v":47},{"i":8,"o":0.7272,"h":0.728,"l":0.7195,"c":0.7205,"v":47},{"i":9,"o":0.7205,"h":0.726,"l":0.7195,"c":0.7252,"v":50},
{"i":10,"o":0.7235,"h":0.7242,"l":0.716,"c":0.7179,"v":37},{"i":11,"o":0.7172,"h":0.7222,"l":0.715,"c":0.7216,"v":65},{"i":12,"o":0.722,"h":0.7228,"l":0.7205,"c":0.7212,"v":37},{"i":13,"o":0.7199,"h":0.726,"l":0.719,"c":0.7252,"v":42},{"i":14,"o":0.7221,"h":0.73,"l":0.721,"c":0.7293,"v":30},
{"i":15,"o":0.7293,"h":0.73,"l":0.7255,"c":0.7266,"v":37},{"i":16,"o":0.7266,"h":0.7272,"l":0.7195,"c":0.7203,"v":34},{"i":17,"o":0.7203,"h":0.7225,"l":0.719,"c":0.7219,"v":27},{"i":18,"o":0.7236,"h":0.7245,"l":0.7198,"c":0.7205,"v":30},{"i":19,"o":0.7216,"h":0.7262,"l":0.7208,"c":0.7256,"v":40},
{"i":20,"o":0.7252,"h":0.731,"l":0.7245,"c":0.7302,"v":44},{"i":21,"o":0.7302,"h":0.731,"l":0.7255,"c":0.7262,"v":40},{"i":22,"o":0.727,"h":0.728,"l":0.724,"c":0.7256,"v":42},{"i":23,"o":0.7256,"h":0.7322,"l":0.725,"c":0.7315,"v":35},{"i":24,"o":0.7313,"h":0.738,"l":0.7305,"c":0.7373,"v":50},
{"i":25,"o":0.7364,"h":0.7372,"l":0.734,"c":0.7346,"v":42},{"i":26,"o":0.7346,"h":0.7388,"l":0.734,"c":0.738,"v":44},{"i":27,"o":0.7374,"h":0.739,"l":0.7322,"c":0.7329,"v":50},{"i":28,"o":0.734,"h":0.7356,"l":0.7335,"c":0.735,"v":30},{"i":29,"o":0.7359,"h":0.737,"l":0.7325,"c":0.7333,"v":30},
{"i":30,"o":0.7337,"h":0.7342,"l":0.7305,"c":0.7313,"v":50},{"i":31,"o":0.7315,"h":0.7322,"l":0.7245,"c":0.7252,"v":54},{"i":32,"o":0.7262,"h":0.7268,"l":0.7185,"c":0.7195,"v":54},{"i":33,"o":0.7195,"h":0.7202,"l":0.7132,"c":0.7141,"v":57},{"i":34,"o":0.7149,"h":0.7155,"l":0.7098,"c":0.7105,"v":57},
{"i":35,"o":0.7118,"h":0.7125,"l":0.7048,"c":0.7055,"v":60},{"i":36,"o":0.7055,"h":0.707,"l":0.7048,"c":0.7064,"v":64},{"i":37,"o":0.7051,"h":0.7098,"l":0.7045,"c":0.7085,"v":57},{"i":38,"o":0.7078,"h":0.709,"l":0.7025,"c":0.7034,"v":47},{"i":39,"o":0.7028,"h":0.7035,"l":0.6985,"c":0.6991,"v":47},
{"i":40,"o":0.6994,"h":0.701,"l":0.6988,"c":0.7004,"v":70},{"i":41,"o":0.6986,"h":0.705,"l":0.698,"c":0.7044,"v":64},{"i":42,"o":0.7038,"h":0.7045,"l":0.701,"c":0.7018,"v":50},{"i":43,"o":0.7028,"h":0.7035,"l":0.6998,"c":0.7007,"v":40},{"i":44,"o":0.7001,"h":0.7008,"l":0.694,"c":0.6947,"v":60},
{"i":45,"o":0.6984,"h":0.6995,"l":0.6955,"c":0.6964,"v":82},{"i":46,"o":0.6937,"h":0.6968,"l":0.69,"c":0.6961,"v":77},{"i":47,"o":0.6961,"h":0.6972,"l":0.6955,"c":0.6967,"v":60},{"i":48,"o":0.6967,"h":0.6972,"l":0.6905,"c":0.6913,"v":50},{"i":49,"o":0.6913,"h":0.6918,"l":0.6848,"c":0.6854,"v":47},
{"i":50,"o":0.6858,"h":0.6912,"l":0.685,"c":0.6904,"v":47},{"i":51,"o":0.69,"h":0.692,"l":0.6855,"c":0.6863,"v":54},{"i":52,"o":0.6867,"h":0.692,"l":0.686,"c":0.6913,"v":47},{"i":53,"o":0.6926,"h":0.694,"l":0.689,"c":0.6935,"v":47},{"i":54,"o":0.6937,"h":0.695,"l":0.6918,"c":0.6924,"v":42},
{"i":55,"o":0.693,"h":0.6938,"l":0.6905,"c":0.6913,"v":60},{"i":56,"o":0.6917,"h":0.6938,"l":0.691,"c":0.693,"v":50},{"i":57,"o":0.693,"h":0.6935,"l":0.688,"c":0.6913,"v":47},{"i":58,"o":0.6926,"h":0.6932,"l":0.6882,"c":0.689,"v":67},{"i":59,"o":0.689,"h":0.699,"l":0.6885,"c":0.6984,"v":64},
{"i":60,"o":0.698,"h":0.701,"l":0.6975,"c":0.7004,"v":62},{"i":61,"o":0.7001,"h":0.701,"l":0.697,"c":0.698,"v":47},{"i":62,"o":0.698,"h":0.705,"l":0.6975,"c":0.7034,"v":44},{"i":63,"o":0.703,"h":0.7058,"l":0.7022,"c":0.7036,"v":40},{"i":64,"o":0.7028,"h":0.7055,"l":0.7022,"c":0.7039,"v":32}
]
},
"columns":4,
"spacing":{"row":41.7,"column":68.7},
"bounds":"flush",
"concat":[
{"width":260,"height":149,"data":{"name":"USD"},
"layer":[
{"layer":[
{"mark":{"type":"bar","width":4.3},"encoding":{"x":{"field":"i","type":"quantitative","scale":{"domain":[-0.45,64.55],"nice":false,"zero":false},"axis":{"values":[17.1,38.1,61],"labelExpr":"datum.value<25?'Apr':(datum.value<50?'May':'Jun')","title":null,"grid":true,"labelOverlap":false}},"y":{"field":"v","type":"quantitative","scale":{"domain":[0,447],"nice":false},"axis":{"orient":"left","title":"DAILY","grid":false,"labels":false,"ticks":false,"domain":false}},"color":{"condition":{"test":"datum.c>=datum.o","value":"#aadcaa"},"value":"#ffc0c0"}}},
{"data":{"values":[{}]},"mark":{"type":"text","text":"USD","align":"left","baseline":"alphabetic","fontSize":20,"fontWeight":"bold","color":"#888888"},"encoding":{"x":{"datum":-5.95,"type":"quantitative","scale":{"domain":[-0.45,64.55],"nice":false,"zero":false}},"y":{"datum":435,"type":"quantitative","scale":{"domain":[0,447],"nice":false}}}},
{"data":{"values":[{}]},"mark":{"type":"text","text":"12:23 PM","align":"left","baseline":"middle","fontSize":8.5,"color":"#777777"},"encoding":{"x":{"datum":29.8,"type":"quantitative","scale":{"domain":[-0.45,64.55],"nice":false,"zero":false}},"y":{"datum":471,"type":"quantitative","scale":{"domain":[0,447],"nice":false}}}},
{"data":{"values":[{}]},"mark":{"type":"text","text":"-0.30 (0.32%)","align":"right","baseline":"middle","fontSize":9,"color":"#cc0000"},"encoding":{"x":{"datum":56.55,"type":"quantitative","scale":{"domain":[-0.45,64.55],"nice":false,"zero":false}},"y":{"datum":471,"type":"quantitative","scale":{"domain":[0,447],"nice":false}}}},
{"data":{"values":[{}]},"mark":{"type":"text","text":"ⓢ finviz.com","align":"left","baseline":"middle","fontSize":9.5,"color":"#5a9fd8"},"encoding":{"x":{"datum":57.8,"type":"quantitative","scale":{"domain":[-0.45,64.55],"nice":false,"zero":false}},"y":{"datum":471,"type":"quantitative","scale":{"domain":[0,447],"nice":false}}}}
]},
{"layer":[
{"mark":{"type":"rule","strokeWidth":1},"encoding":{"x":{"field":"i","type":"quantitative","scale":{"domain":[-0.45,64.55],"nice":false,"zero":false}},"y":{"field":"l","type":"quantitative","scale":{"domain":[88,95],"nice":false,"zero":false},"axis":{"orient":"right","title":null,"grid":true,"labelOverlap":false,"tickCount":8,"values":[88,89,90,91,92,93,94,95],"format":".2f"}},"y2":{"field":"h"},"color":{"condition":{"test":"datum.c>=datum.o","value":"#1b5e1b"},"value":"#6e1010"}}},
{"mark":{"type":"bar","width":3,"stroke":"#000000","strokeWidth":1},"encoding":{"x":{"field":"i","type":"quantitative","scale":{"domain":[-0.45,64.55],"nice":false,"zero":false}},"y":{"field":"o","type":"quantitative","scale":{"domain":[88,95],"nice":false,"zero":false}},"y2":{"field":"c"},"fill":{"condition":{"test":"datum.c>=datum.o","value":"#00dd00"},"value":"#e00000"}}},
{"transform":[{"filter":"datum.i==64"}],"mark":{"type":"point","shape":"M-1.25,-0.5L1.25,-0.5L1.25,0.5L-1.25,0.5Z","size":400,"filled":true,"color":"#ffff00","opacity":1,"strokeWidth":0},"encoding":{"x":{"datum":67.9,"type":"quantitative","scale":{"domain":[-0.45,64.55],"nice":false,"zero":false}},"y":{"field":"c","type":"quantitative","scale":{"domain":[88,95],"nice":false,"zero":false}}}},
{"transform":[{"filter":"datum.i==64"}],"mark":{"type":"text","align":"center","baseline":"middle","fontSize":9.5,"color":"#333333"},"encoding":{"x":{"datum":67.9,"type":"quantitative","scale":{"domain":[-0.45,64.55],"nice":false,"zero":false}},"y":{"field":"c","type":"quantitative","scale":{"domain":[88,95],"nice":false,"zero":false}},"text":{"field":"c","type":"quantitative","format":".2f"}}}
]}
],
"resolve":{"scale":{"y":"independent"},"axis":{"y":"independent"}}},

{"width":260,"height":149,"data":{"name":"EUR"},
"layer":[
{"layer":[
{"mark":{"type":"bar","width":4.3},"encoding":{"x":{"field":"i","type":"quantitative","scale":{"domain":[-0.45,64.55],"nice":false,"zero":false},"axis":{"values":[17.1,38.1,61],"labelExpr":"datum.value<25?'Apr':(datum.value<50?'May':'Jun')","title":null,"grid":true,"labelOverlap":false}},"y":{"field":"v","type":"quantitative","scale":{"domain":[0,447],"nice":false},"axis":{"orient":"left","title":"DAILY","grid":false,"labels":false,"ticks":false,"domain":false}},"color":{"condition":{"test":"datum.c>=datum.o","value":"#aadcaa"},"value":"#ffc0c0"}}},
{"data":{"values":[{}]},"mark":{"type":"text","text":"EUR","align":"left","baseline":"alphabetic","fontSize":20,"fontWeight":"bold","color":"#888888"},"encoding":{"x":{"datum":-5.95,"type":"quantitative","scale":{"domain":[-0.45,64.55],"nice":false,"zero":false}},"y":{"datum":435,"type":"quantitative","scale":{"domain":[0,447],"nice":false}}}},
{"data":{"values":[{}]},"mark":{"type":"text","text":"12:23 PM","align":"left","baseline":"middle","fontSize":8.5,"color":"#777777"},"encoding":{"x":{"datum":29.8,"type":"quantitative","scale":{"domain":[-0.45,64.55],"nice":false,"zero":false}},"y":{"datum":471,"type":"quantitative","scale":{"domain":[0,447],"nice":false}}}},
{"data":{"values":[{}]},"mark":{"type":"text","text":"+0.0059 (0.50%)","align":"right","baseline":"middle","fontSize":9,"color":"#118811"},"encoding":{"x":{"datum":56.55,"type":"quantitative","scale":{"domain":[-0.45,64.55],"nice":false,"zero":false}},"y":{"datum":471,"type":"quantitative","scale":{"domain":[0,447],"nice":false}}}},
{"data":{"values":[{}]},"mark":{"type":"text","text":"ⓢ finviz.com","align":"left","baseline":"middle","fontSize":9.5,"color":"#5a9fd8"},"encoding":{"x":{"datum":57.8,"type":"quantitative","scale":{"domain":[-0.45,64.55],"nice":false,"zero":false}},"y":{"datum":471,"type":"quantitative","scale":{"domain":[0,447],"nice":false}}}}
]},
{"layer":[
{"mark":{"type":"rule","strokeWidth":1},"encoding":{"x":{"field":"i","type":"quantitative","scale":{"domain":[-0.45,64.55],"nice":false,"zero":false}},"y":{"field":"l","type":"quantitative","scale":{"domain":[1.14,1.26],"nice":false,"zero":false},"axis":{"orient":"right","title":null,"grid":true,"labelOverlap":false,"tickCount":7,"values":[1.14,1.16,1.18,1.2,1.22,1.24,1.26],"format":".4f"}},"y2":{"field":"h"},"color":{"condition":{"test":"datum.c>=datum.o","value":"#1b5e1b"},"value":"#6e1010"}}},
{"mark":{"type":"bar","width":3,"stroke":"#000000","strokeWidth":1},"encoding":{"x":{"field":"i","type":"quantitative","scale":{"domain":[-0.45,64.55],"nice":false,"zero":false}},"y":{"field":"o","type":"quantitative","scale":{"domain":[1.14,1.26],"nice":false,"zero":false}},"y2":{"field":"c"},"fill":{"condition":{"test":"datum.c>=datum.o","value":"#00dd00"},"value":"#e00000"}}},
{"transform":[{"filter":"datum.i==64"}],"mark":{"type":"point","shape":"M-1.45,-0.5L1.45,-0.5L1.45,0.5L-1.45,0.5Z","size":400,"filled":true,"color":"#ffff00","opacity":1,"strokeWidth":0},"encoding":{"x":{"datum":68.4,"type":"quantitative","scale":{"domain":[-0.45,64.55],"nice":false,"zero":false}},"y":{"field":"c","type":"quantitative","scale":{"domain":[1.14,1.26],"nice":false,"zero":false}}}},
{"transform":[{"filter":"datum.i==64"}],"mark":{"type":"text","align":"center","baseline":"middle","fontSize":9.5,"color":"#333333"},"encoding":{"x":{"datum":68.4,"type":"quantitative","scale":{"domain":[-0.45,64.55],"nice":false,"zero":false}},"y":{"field":"c","type":"quantitative","scale":{"domain":[1.14,1.26],"nice":false,"zero":false}},"text":{"field":"c","type":"quantitative","format":".4f"}}}
]}
],
"resolve":{"scale":{"y":"independent"},"axis":{"y":"independent"}}},

{"width":260,"height":149,"data":{"name":"JPY"},
"layer":[
{"layer":[
{"mark":{"type":"bar","width":4.3},"encoding":{"x":{"field":"i","type":"quantitative","scale":{"domain":[-0.45,64.55],"nice":false,"zero":false},"axis":{"values":[17.1,38.1,61],"labelExpr":"datum.value<25?'Apr':(datum.value<50?'May':'Jun')","title":null,"grid":true,"labelOverlap":false}},"y":{"field":"v","type":"quantitative","scale":{"domain":[0,447],"nice":false},"axis":{"orient":"left","title":"DAILY","grid":false,"labels":false,"ticks":false,"domain":false}},"color":{"condition":{"test":"datum.c>=datum.o","value":"#aadcaa"},"value":"#ffc0c0"}}},
{"data":{"values":[{}]},"mark":{"type":"text","text":"JPY","align":"left","baseline":"alphabetic","fontSize":20,"fontWeight":"bold","color":"#888888"},"encoding":{"x":{"datum":-5.95,"type":"quantitative","scale":{"domain":[-0.45,64.55],"nice":false,"zero":false}},"y":{"datum":435,"type":"quantitative","scale":{"domain":[0,447],"nice":false}}}},
{"data":{"values":[{}]},"mark":{"type":"text","text":"12:23 PM","align":"left","baseline":"middle","fontSize":8.5,"color":"#777777"},"encoding":{"x":{"datum":29.8,"type":"quantitative","scale":{"domain":[-0.45,64.55],"nice":false,"zero":false}},"y":{"datum":471,"type":"quantitative","scale":{"domain":[0,447],"nice":false}}}},
{"data":{"values":[{}]},"mark":{"type":"text","text":"-0.0024 (0.26%)","align":"right","baseline":"middle","fontSize":9,"color":"#cc0000"},"encoding":{"x":{"datum":56.55,"type":"quantitative","scale":{"domain":[-0.45,64.55],"nice":false,"zero":false}},"y":{"datum":471,"type":"quantitative","scale":{"domain":[0,447],"nice":false}}}},
{"data":{"values":[{}]},"mark":{"type":"text","text":"ⓢ finviz.com","align":"left","baseline":"middle","fontSize":9.5,"color":"#5a9fd8"},"encoding":{"x":{"datum":57.8,"type":"quantitative","scale":{"domain":[-0.45,64.55],"nice":false,"zero":false}},"y":{"datum":471,"type":"quantitative","scale":{"domain":[0,447],"nice":false}}}}
]},
{"layer":[
{"mark":{"type":"rule","strokeWidth":1},"encoding":{"x":{"field":"i","type":"quantitative","scale":{"domain":[-0.45,64.55],"nice":false,"zero":false}},"y":{"field":"l","type":"quantitative","scale":{"domain":[0.89,0.97],"nice":false,"zero":false},"axis":{"orient":"right","title":null,"grid":true,"labelOverlap":false,"tickCount":9,"values":[0.89,0.9,0.91,0.92,0.93,0.94,0.95,0.96,0.97],"format":".4f"}},"y2":{"field":"h"},"color":{"condition":{"test":"datum.c>=datum.o","value":"#1b5e1b"},"value":"#6e1010"}}},
{"mark":{"type":"bar","width":3,"stroke":"#000000","strokeWidth":1},"encoding":{"x":{"field":"i","type":"quantitative","scale":{"domain":[-0.45,64.55],"nice":false,"zero":false}},"y":{"field":"o","type":"quantitative","scale":{"domain":[0.89,0.97],"nice":false,"zero":false}},"y2":{"field":"c"},"fill":{"condition":{"test":"datum.c>=datum.o","value":"#00dd00"},"value":"#e00000"}}},
{"transform":[{"filter":"datum.i==64"}],"mark":{"type":"point","shape":"M-1.45,-0.5L1.45,-0.5L1.45,0.5L-1.45,0.5Z","size":400,"filled":true,"color":"#ffff00","opacity":1,"strokeWidth":0},"encoding":{"x":{"datum":68.4,"type":"quantitative","scale":{"domain":[-0.45,64.55],"nice":false,"zero":false}},"y":{"field":"c","type":"quantitative","scale":{"domain":[0.89,0.97],"nice":false,"zero":false}}}},
{"transform":[{"filter":"datum.i==64"}],"mark":{"type":"text","align":"center","baseline":"middle","fontSize":9.5,"color":"#333333"},"encoding":{"x":{"datum":68.4,"type":"quantitative","scale":{"domain":[-0.45,64.55],"nice":false,"zero":false}},"y":{"field":"c","type":"quantitative","scale":{"domain":[0.89,0.97],"nice":false,"zero":false}},"text":{"field":"c","type":"quantitative","format":".4f"}}}
]}
],
"resolve":{"scale":{"y":"independent"},"axis":{"y":"independent"}}},

{"width":260,"height":149,"data":{"name":"GBP"},
"layer":[
{"layer":[
{"mark":{"type":"bar","width":4.3},"encoding":{"x":{"field":"i","type":"quantitative","scale":{"domain":[-0.45,64.55],"nice":false,"zero":false},"axis":{"values":[17.1,38.1,61],"labelExpr":"datum.value<25?'Apr':(datum.value<50?'May':'Jun')","title":null,"grid":true,"labelOverlap":false}},"y":{"field":"v","type":"quantitative","scale":{"domain":[0,447],"nice":false},"axis":{"orient":"left","title":"DAILY","grid":false,"labels":false,"ticks":false,"domain":false}},"color":{"condition":{"test":"datum.c>=datum.o","value":"#aadcaa"},"value":"#ffc0c0"}}},
{"data":{"values":[{}]},"mark":{"type":"text","text":"GBP","align":"left","baseline":"alphabetic","fontSize":20,"fontWeight":"bold","color":"#888888"},"encoding":{"x":{"datum":-5.95,"type":"quantitative","scale":{"domain":[-0.45,64.55],"nice":false,"zero":false}},"y":{"datum":435,"type":"quantitative","scale":{"domain":[0,447],"nice":false}}}},
{"data":{"values":[{}]},"mark":{"type":"text","text":"12:23 PM","align":"left","baseline":"middle","fontSize":8.5,"color":"#777777"},"encoding":{"x":{"datum":29.8,"type":"quantitative","scale":{"domain":[-0.45,64.55],"nice":false,"zero":false}},"y":{"datum":471,"type":"quantitative","scale":{"domain":[0,447],"nice":false}}}},
{"data":{"values":[{}]},"mark":{"type":"text","text":"+0.0020 (0.15%)","align":"right","baseline":"middle","fontSize":9,"color":"#118811"},"encoding":{"x":{"datum":56.55,"type":"quantitative","scale":{"domain":[-0.45,64.55],"nice":false,"zero":false}},"y":{"datum":471,"type":"quantitative","scale":{"domain":[0,447],"nice":false}}}},
{"data":{"values":[{}]},"mark":{"type":"text","text":"ⓢ finviz.com","align":"left","baseline":"middle","fontSize":9.5,"color":"#5a9fd8"},"encoding":{"x":{"datum":57.8,"type":"quantitative","scale":{"domain":[-0.45,64.55],"nice":false,"zero":false}},"y":{"datum":471,"type":"quantitative","scale":{"domain":[0,447],"nice":false}}}}
]},
{"layer":[
{"mark":{"type":"rule","strokeWidth":1},"encoding":{"x":{"field":"i","type":"quantitative","scale":{"domain":[-0.45,64.55],"nice":false,"zero":false}},"y":{"field":"l","type":"quantitative","scale":{"domain":[1.32,1.46],"nice":false,"zero":false},"axis":{"orient":"right","title":null,"grid":true,"labelOverlap":false,"tickCount":8,"values":[1.32,1.34,1.36,1.38,1.4,1.42,1.44,1.46],"format":".4f"}},"y2":{"field":"h"},"color":{"condition":{"test":"datum.c>=datum.o","value":"#1b5e1b"},"value":"#6e1010"}}},
{"mark":{"type":"bar","width":3,"stroke":"#000000","strokeWidth":1},"encoding":{"x":{"field":"i","type":"quantitative","scale":{"domain":[-0.45,64.55],"nice":false,"zero":false}},"y":{"field":"o","type":"quantitative","scale":{"domain":[1.32,1.46],"nice":false,"zero":false}},"y2":{"field":"c"},"fill":{"condition":{"test":"datum.c>=datum.o","value":"#00dd00"},"value":"#e00000"}}},
{"transform":[{"filter":"datum.i==64"}],"mark":{"type":"point","shape":"M-1.45,-0.5L1.45,-0.5L1.45,0.5L-1.45,0.5Z","size":400,"filled":true,"color":"#ffff00","opacity":1,"strokeWidth":0},"encoding":{"x":{"datum":68.4,"type":"quantitative","scale":{"domain":[-0.45,64.55],"nice":false,"zero":false}},"y":{"field":"c","type":"quantitative","scale":{"domain":[1.32,1.46],"nice":false,"zero":false}}}},
{"transform":[{"filter":"datum.i==64"}],"mark":{"type":"text","align":"center","baseline":"middle","fontSize":9.5,"color":"#333333"},"encoding":{"x":{"datum":68.4,"type":"quantitative","scale":{"domain":[-0.45,64.55],"nice":false,"zero":false}},"y":{"field":"c","type":"quantitative","scale":{"domain":[1.32,1.46],"nice":false,"zero":false}},"text":{"field":"c","type":"quantitative","format":".4f"}}}
]}
],
"resolve":{"scale":{"y":"independent"},"axis":{"y":"independent"}}},

{"width":260,"height":149,"data":{"name":"CAD"},
"layer":[
{"layer":[
{"mark":{"type":"bar","width":4.3},"encoding":{"x":{"field":"i","type":"quantitative","scale":{"domain":[-0.45,64.55],"nice":false,"zero":false},"axis":{"values":[17.1,38.1,61],"labelExpr":"datum.value<25?'Apr':(datum.value<50?'May':'Jun')","title":null,"grid":true,"labelOverlap":false}},"y":{"field":"v","type":"quantitative","scale":{"domain":[0,447],"nice":false},"axis":{"orient":"left","title":"DAILY","grid":false,"labels":false,"ticks":false,"domain":false}},"color":{"condition":{"test":"datum.c>=datum.o","value":"#aadcaa"},"value":"#ffc0c0"}}},
{"data":{"values":[{}]},"mark":{"type":"text","text":"CAD","align":"left","baseline":"alphabetic","fontSize":20,"fontWeight":"bold","color":"#888888"},"encoding":{"x":{"datum":-5.95,"type":"quantitative","scale":{"domain":[-0.45,64.55],"nice":false,"zero":false}},"y":{"datum":435,"type":"quantitative","scale":{"domain":[0,447],"nice":false}}}},
{"data":{"values":[{}]},"mark":{"type":"text","text":"12:23 PM","align":"left","baseline":"middle","fontSize":8.5,"color":"#777777"},"encoding":{"x":{"datum":29.8,"type":"quantitative","scale":{"domain":[-0.45,64.55],"nice":false,"zero":false}},"y":{"datum":471,"type":"quantitative","scale":{"domain":[0,447],"nice":false}}}},
{"data":{"values":[{}]},"mark":{"type":"text","text":"+0.0033 (0.43%)","align":"right","baseline":"middle","fontSize":9,"color":"#118811"},"encoding":{"x":{"datum":56.55,"type":"quantitative","scale":{"domain":[-0.45,64.55],"nice":false,"zero":false}},"y":{"datum":471,"type":"quantitative","scale":{"domain":[0,447],"nice":false}}}},
{"data":{"values":[{}]},"mark":{"type":"text","text":"ⓢ finviz.com","align":"left","baseline":"middle","fontSize":9.5,"color":"#5a9fd8"},"encoding":{"x":{"datum":57.8,"type":"quantitative","scale":{"domain":[-0.45,64.55],"nice":false,"zero":false}},"y":{"datum":471,"type":"quantitative","scale":{"domain":[0,447],"nice":false}}}}
]},
{"layer":[
{"mark":{"type":"rule","strokeWidth":1},"encoding":{"x":{"field":"i","type":"quantitative","scale":{"domain":[-0.45,64.55],"nice":false,"zero":false}},"y":{"field":"l","type":"quantitative","scale":{"domain":[0.76,0.8],"nice":false,"zero":false},"axis":{"orient":"right","title":null,"grid":true,"labelOverlap":false,"tickCount":9,"values":[0.76,0.765,0.77,0.775,0.78,0.785,0.79,0.795,0.8],"format":".4f"}},"y2":{"field":"h"},"color":{"condition":{"test":"datum.c>=datum.o","value":"#1b5e1b"},"value":"#6e1010"}}},
{"mark":{"type":"bar","width":3,"stroke":"#000000","strokeWidth":1},"encoding":{"x":{"field":"i","type":"quantitative","scale":{"domain":[-0.45,64.55],"nice":false,"zero":false}},"y":{"field":"o","type":"quantitative","scale":{"domain":[0.76,0.8],"nice":false,"zero":false}},"y2":{"field":"c"},"fill":{"condition":{"test":"datum.c>=datum.o","value":"#00dd00"},"value":"#e00000"}}},
{"transform":[{"filter":"datum.i==64"}],"mark":{"type":"point","shape":"M-1.45,-0.5L1.45,-0.5L1.45,0.5L-1.45,0.5Z","size":400,"filled":true,"color":"#ffff00","opacity":1,"strokeWidth":0},"encoding":{"x":{"datum":68.4,"type":"quantitative","scale":{"domain":[-0.45,64.55],"nice":false,"zero":false}},"y":{"field":"c","type":"quantitative","scale":{"domain":[0.76,0.8],"nice":false,"zero":false}}}},
{"transform":[{"filter":"datum.i==64"}],"mark":{"type":"text","align":"center","baseline":"middle","fontSize":9.5,"color":"#333333"},"encoding":{"x":{"datum":68.4,"type":"quantitative","scale":{"domain":[-0.45,64.55],"nice":false,"zero":false}},"y":{"field":"c","type":"quantitative","scale":{"domain":[0.76,0.8],"nice":false,"zero":false}},"text":{"field":"c","type":"quantitative","format":".4f"}}}
]}
],
"resolve":{"scale":{"y":"independent"},"axis":{"y":"independent"}}},

{"width":260,"height":149,"data":{"name":"CHF"},
"layer":[
{"layer":[
{"mark":{"type":"bar","width":4.3},"encoding":{"x":{"field":"i","type":"quantitative","scale":{"domain":[-0.45,64.55],"nice":false,"zero":false},"axis":{"values":[17.1,38.1,61],"labelExpr":"datum.value<25?'Apr':(datum.value<50?'May':'Jun')","title":null,"grid":true,"labelOverlap":false}},"y":{"field":"v","type":"quantitative","scale":{"domain":[0,447],"nice":false},"axis":{"orient":"left","title":"DAILY","grid":false,"labels":false,"ticks":false,"domain":false}},"color":{"condition":{"test":"datum.c>=datum.o","value":"#aadcaa"},"value":"#ffc0c0"}}},
{"data":{"values":[{}]},"mark":{"type":"text","text":"CHF","align":"left","baseline":"alphabetic","fontSize":20,"fontWeight":"bold","color":"#888888"},"encoding":{"x":{"datum":-5.95,"type":"quantitative","scale":{"domain":[-0.45,64.55],"nice":false,"zero":false}},"y":{"datum":435,"type":"quantitative","scale":{"domain":[0,447],"nice":false}}}},
{"data":{"values":[{}]},"mark":{"type":"text","text":"12:23 PM","align":"left","baseline":"middle","fontSize":8.5,"color":"#777777"},"encoding":{"x":{"datum":29.8,"type":"quantitative","scale":{"domain":[-0.45,64.55],"nice":false,"zero":false}},"y":{"datum":471,"type":"quantitative","scale":{"domain":[0,447],"nice":false}}}},
{"data":{"values":[{}]},"mark":{"type":"text","text":"-0.0007 (0.07%)","align":"right","baseline":"middle","fontSize":9,"color":"#cc0000"},"encoding":{"x":{"datum":56.55,"type":"quantitative","scale":{"domain":[-0.45,64.55],"nice":false,"zero":false}},"y":{"datum":471,"type":"quantitative","scale":{"domain":[0,447],"nice":false}}}},
{"data":{"values":[{}]},"mark":{"type":"text","text":"ⓢ finviz.com","align":"left","baseline":"middle","fontSize":9.5,"color":"#5a9fd8"},"encoding":{"x":{"datum":57.8,"type":"quantitative","scale":{"domain":[-0.45,64.55],"nice":false,"zero":false}},"y":{"datum":471,"type":"quantitative","scale":{"domain":[0,447],"nice":false}}}}
]},
{"layer":[
{"mark":{"type":"rule","strokeWidth":1},"encoding":{"x":{"field":"i","type":"quantitative","scale":{"domain":[-0.45,64.55],"nice":false,"zero":false}},"y":{"field":"l","type":"quantitative","scale":{"domain":[0.99,1.07],"nice":false,"zero":false},"axis":{"orient":"right","title":null,"grid":true,"labelOverlap":false,"tickCount":9,"values":[0.99,1,1.01,1.02,1.03,1.04,1.05,1.06,1.07],"format":".4f"}},"y2":{"field":"h"},"color":{"condition":{"test":"datum.c>=datum.o","value":"#1b5e1b"},"value":"#6e1010"}}},
{"mark":{"type":"bar","width":3,"stroke":"#000000","strokeWidth":1},"encoding":{"x":{"field":"i","type":"quantitative","scale":{"domain":[-0.45,64.55],"nice":false,"zero":false}},"y":{"field":"o","type":"quantitative","scale":{"domain":[0.99,1.07],"nice":false,"zero":false}},"y2":{"field":"c"},"fill":{"condition":{"test":"datum.c>=datum.o","value":"#00dd00"},"value":"#e00000"}}},
{"transform":[{"filter":"datum.i==64"}],"mark":{"type":"point","shape":"M-1.45,-0.5L1.45,-0.5L1.45,0.5L-1.45,0.5Z","size":400,"filled":true,"color":"#ffff00","opacity":1,"strokeWidth":0},"encoding":{"x":{"datum":68.4,"type":"quantitative","scale":{"domain":[-0.45,64.55],"nice":false,"zero":false}},"y":{"field":"c","type":"quantitative","scale":{"domain":[0.99,1.07],"nice":false,"zero":false}}}},
{"transform":[{"filter":"datum.i==64"}],"mark":{"type":"text","align":"center","baseline":"middle","fontSize":9.5,"color":"#333333"},"encoding":{"x":{"datum":68.4,"type":"quantitative","scale":{"domain":[-0.45,64.55],"nice":false,"zero":false}},"y":{"field":"c","type":"quantitative","scale":{"domain":[0.99,1.07],"nice":false,"zero":false}},"text":{"field":"c","type":"quantitative","format":".4f"}}}
]}
],
"resolve":{"scale":{"y":"independent"},"axis":{"y":"independent"}}},

{"width":260,"height":149,"data":{"name":"AUD"},
"layer":[
{"layer":[
{"mark":{"type":"bar","width":4.3},"encoding":{"x":{"field":"i","type":"quantitative","scale":{"domain":[-0.45,64.55],"nice":false,"zero":false},"axis":{"values":[17.1,38.1,61],"labelExpr":"datum.value<25?'Apr':(datum.value<50?'May':'Jun')","title":null,"grid":true,"labelOverlap":false}},"y":{"field":"v","type":"quantitative","scale":{"domain":[0,447],"nice":false},"axis":{"orient":"left","title":"DAILY","grid":false,"labels":false,"ticks":false,"domain":false}},"color":{"condition":{"test":"datum.c>=datum.o","value":"#aadcaa"},"value":"#ffc0c0"}}},
{"data":{"values":[{}]},"mark":{"type":"text","text":"AUD","align":"left","baseline":"alphabetic","fontSize":20,"fontWeight":"bold","color":"#888888"},"encoding":{"x":{"datum":-5.95,"type":"quantitative","scale":{"domain":[-0.45,64.55],"nice":false,"zero":false}},"y":{"datum":435,"type":"quantitative","scale":{"domain":[0,447],"nice":false}}}},
{"data":{"values":[{}]},"mark":{"type":"text","text":"12:23 PM","align":"left","baseline":"middle","fontSize":8.5,"color":"#777777"},"encoding":{"x":{"datum":29.8,"type":"quantitative","scale":{"domain":[-0.45,64.55],"nice":false,"zero":false}},"y":{"datum":471,"type":"quantitative","scale":{"domain":[0,447],"nice":false}}}},
{"data":{"values":[{}]},"mark":{"type":"text","text":"+0.0055 (0.72%)","align":"right","baseline":"middle","fontSize":9,"color":"#118811"},"encoding":{"x":{"datum":56.55,"type":"quantitative","scale":{"domain":[-0.45,64.55],"nice":false,"zero":false}},"y":{"datum":471,"type":"quantitative","scale":{"domain":[0,447],"nice":false}}}},
{"data":{"values":[{}]},"mark":{"type":"text","text":"ⓢ finviz.com","align":"left","baseline":"middle","fontSize":9.5,"color":"#5a9fd8"},"encoding":{"x":{"datum":57.8,"type":"quantitative","scale":{"domain":[-0.45,64.55],"nice":false,"zero":false}},"y":{"datum":471,"type":"quantitative","scale":{"domain":[0,447],"nice":false}}}}
]},
{"layer":[
{"mark":{"type":"rule","strokeWidth":1},"encoding":{"x":{"field":"i","type":"quantitative","scale":{"domain":[-0.45,64.55],"nice":false,"zero":false}},"y":{"field":"l","type":"quantitative","scale":{"domain":[0.74,0.8],"nice":false,"zero":false},"axis":{"orient":"right","title":null,"grid":true,"labelOverlap":false,"tickCount":7,"values":[0.74,0.75,0.76,0.77,0.78,0.79,0.8],"format":".4f"}},"y2":{"field":"h"},"color":{"condition":{"test":"datum.c>=datum.o","value":"#1b5e1b"},"value":"#6e1010"}}},
{"mark":{"type":"bar","width":3,"stroke":"#000000","strokeWidth":1},"encoding":{"x":{"field":"i","type":"quantitative","scale":{"domain":[-0.45,64.55],"nice":false,"zero":false}},"y":{"field":"o","type":"quantitative","scale":{"domain":[0.74,0.8],"nice":false,"zero":false}},"y2":{"field":"c"},"fill":{"condition":{"test":"datum.c>=datum.o","value":"#00dd00"},"value":"#e00000"}}},
{"transform":[{"filter":"datum.i==64"}],"mark":{"type":"point","shape":"M-1.45,-0.5L1.45,-0.5L1.45,0.5L-1.45,0.5Z","size":400,"filled":true,"color":"#ffff00","opacity":1,"strokeWidth":0},"encoding":{"x":{"datum":68.4,"type":"quantitative","scale":{"domain":[-0.45,64.55],"nice":false,"zero":false}},"y":{"field":"c","type":"quantitative","scale":{"domain":[0.74,0.8],"nice":false,"zero":false}}}},
{"transform":[{"filter":"datum.i==64"}],"mark":{"type":"text","align":"center","baseline":"middle","fontSize":9.5,"color":"#333333"},"encoding":{"x":{"datum":68.4,"type":"quantitative","scale":{"domain":[-0.45,64.55],"nice":false,"zero":false}},"y":{"field":"c","type":"quantitative","scale":{"domain":[0.74,0.8],"nice":false,"zero":false}},"text":{"field":"c","type":"quantitative","format":".4f"}}}
]}
],
"resolve":{"scale":{"y":"independent"},"axis":{"y":"independent"}}},

{"width":260,"height":149,"data":{"name":"NZD"},
"layer":[
{"layer":[
{"mark":{"type":"bar","width":4.3},"encoding":{"x":{"field":"i","type":"quantitative","scale":{"domain":[-0.45,64.55],"nice":false,"zero":false},"axis":{"values":[17.1,38.1,61],"labelExpr":"datum.value<25?'Apr':(datum.value<50?'May':'Jun')","title":null,"grid":true,"labelOverlap":false}},"y":{"field":"v","type":"quantitative","scale":{"domain":[0,447],"nice":false},"axis":{"orient":"left","title":"DAILY","grid":false,"labels":false,"ticks":false,"domain":false}},"color":{"condition":{"test":"datum.c>=datum.o","value":"#aadcaa"},"value":"#ffc0c0"}}},
{"data":{"values":[{}]},"mark":{"type":"text","text":"NZD","align":"left","baseline":"alphabetic","fontSize":20,"fontWeight":"bold","color":"#888888"},"encoding":{"x":{"datum":-5.95,"type":"quantitative","scale":{"domain":[-0.45,64.55],"nice":false,"zero":false}},"y":{"datum":435,"type":"quantitative","scale":{"domain":[0,447],"nice":false}}}},
{"data":{"values":[{}]},"mark":{"type":"text","text":"12:22 PM","align":"left","baseline":"middle","fontSize":8.5,"color":"#777777"},"encoding":{"x":{"datum":29.8,"type":"quantitative","scale":{"domain":[-0.45,64.55],"nice":false,"zero":false}},"y":{"datum":471,"type":"quantitative","scale":{"domain":[0,447],"nice":false}}}},
{"data":{"values":[{}]},"mark":{"type":"text","text":"+0.0011 (0.16%)","align":"right","baseline":"middle","fontSize":9,"color":"#118811"},"encoding":{"x":{"datum":56.55,"type":"quantitative","scale":{"domain":[-0.45,64.55],"nice":false,"zero":false}},"y":{"datum":471,"type":"quantitative","scale":{"domain":[0,447],"nice":false}}}},
{"data":{"values":[{}]},"mark":{"type":"text","text":"ⓢ finviz.com","align":"left","baseline":"middle","fontSize":9.5,"color":"#5a9fd8"},"encoding":{"x":{"datum":57.8,"type":"quantitative","scale":{"domain":[-0.45,64.55],"nice":false,"zero":false}},"y":{"datum":471,"type":"quantitative","scale":{"domain":[0,447],"nice":false}}}}
]},
{"layer":[
{"mark":{"type":"rule","strokeWidth":1},"encoding":{"x":{"field":"i","type":"quantitative","scale":{"domain":[-0.45,64.55],"nice":false,"zero":false}},"y":{"field":"l","type":"quantitative","scale":{"domain":[0.68,0.74],"nice":false,"zero":false},"axis":{"orient":"right","title":null,"grid":true,"labelOverlap":false,"tickCount":7,"values":[0.68,0.69,0.7,0.71,0.72,0.73,0.74],"format":".4f"}},"y2":{"field":"h"},"color":{"condition":{"test":"datum.c>=datum.o","value":"#1b5e1b"},"value":"#6e1010"}}},
{"mark":{"type":"bar","width":3,"stroke":"#000000","strokeWidth":1},"encoding":{"x":{"field":"i","type":"quantitative","scale":{"domain":[-0.45,64.55],"nice":false,"zero":false}},"y":{"field":"o","type":"quantitative","scale":{"domain":[0.68,0.74],"nice":false,"zero":false}},"y2":{"field":"c"},"fill":{"condition":{"test":"datum.c>=datum.o","value":"#00dd00"},"value":"#e00000"}}},
{"transform":[{"filter":"datum.i==64"}],"mark":{"type":"point","shape":"M-1.45,-0.5L1.45,-0.5L1.45,0.5L-1.45,0.5Z","size":400,"filled":true,"color":"#ffff00","opacity":1,"strokeWidth":0},"encoding":{"x":{"datum":68.4,"type":"quantitative","scale":{"domain":[-0.45,64.55],"nice":false,"zero":false}},"y":{"field":"c","type":"quantitative","scale":{"domain":[0.68,0.74],"nice":false,"zero":false}}}},
{"transform":[{"filter":"datum.i==64"}],"mark":{"type":"text","align":"center","baseline":"middle","fontSize":9.5,"color":"#333333"},"encoding":{"x":{"datum":68.4,"type":"quantitative","scale":{"domain":[-0.45,64.55],"nice":false,"zero":false}},"y":{"field":"c","type":"quantitative","scale":{"domain":[0.68,0.74],"nice":false,"zero":false}},"text":{"field":"c","type":"quantitative","format":".4f"}}}
]}
],
"resolve":{"scale":{"y":"independent"},"axis":{"y":"independent"}}}
]
}
